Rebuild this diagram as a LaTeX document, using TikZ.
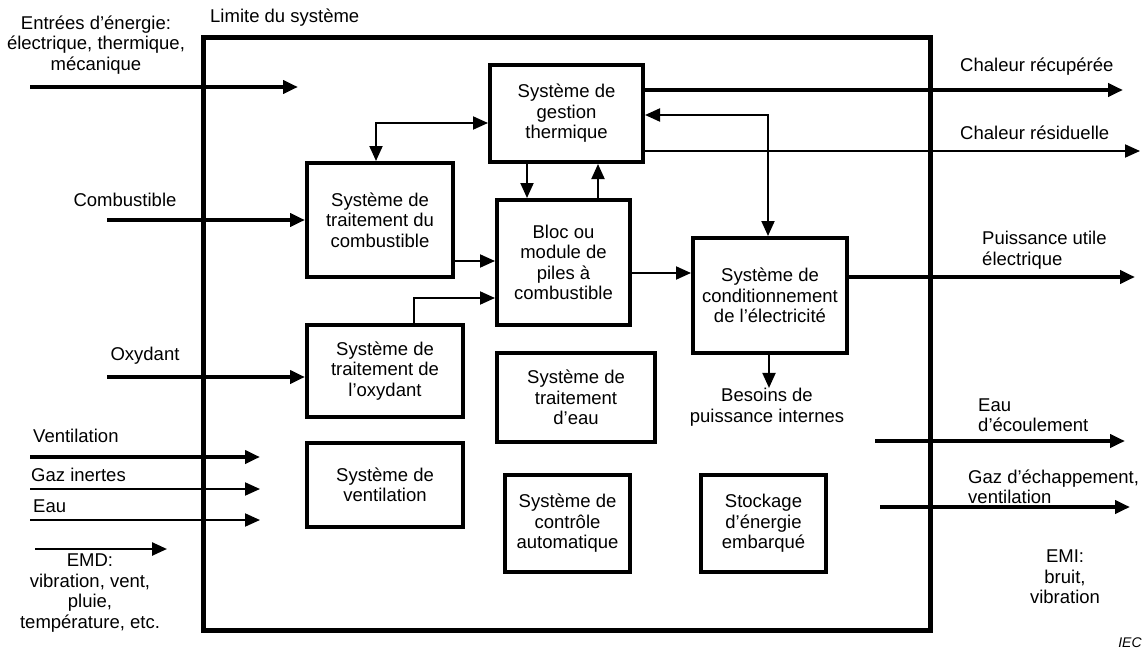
\documentclass[tikz,border=0pt]{standalone}
\usepackage{fontspec}
\setmainfont{Liberation Sans}
\usetikzlibrary{arrows.meta}
\newcommand\fsz{\fontsize{18.5}{20.5}\selectfont}
\begin{document}
\begin{tikzpicture}[x=1pt,y=-1pt,
  every node/.style={font=\fsz, inner sep=0pt},
  box/.style={draw, line width=4pt, align=center, inner sep=0pt},
  lbl/.style={align=center},
  lbll/.style={align=left, anchor=west},
  tip/.style={-{Triangle[length=15pt,width=13pt]}},
  thickarr/.style={tip, line width=4.5pt},
  thinarr/.style={tip, line width=2pt},
  midarr/.style={tip, line width=2.5pt},
  link/.style={line width=2pt},
  bound/.style={draw, line width=5pt, inner sep=0pt}]
\useasboundingbox (0,0) rectangle (1145,650);

% system boundary
\node[bound, minimum width=727pt, minimum height=592pt] (sys) at (566.5,334) {};
\node[anchor=west] (limite) at (210,18) {Limite du syst\`eme};

% internal boxes
\node[box, minimum width=153pt, minimum height=97pt] (gest) at (566.5,113.5) {Syst\`eme de\\gestion\\thermique};
\node[box, minimum width=146pt, minimum height=114pt] (fuel) at (380,220) {Syst\`eme de\\traitement du\\combustible};
\node[box, minimum width=133pt, minimum height=125pt] (stack) at (563.5,262.5) {Bloc ou\\module de\\piles \`a\\combustible};
\node[box, minimum width=154pt, minimum height=115pt] (cond) at (770,295.5) {Syst\`eme de\\conditionnement\\de l’\'electricit\'e};
\node[box, minimum width=156pt, minimum height=92pt] (oxy) at (385,371) {Syst\`eme de\\traitement de\\l’oxydant};
\node[box, minimum width=156pt, minimum height=84pt] (vent) at (385,485) {Syst\`eme de\\ventilation};
\node[box, minimum width=158pt, minimum height=89pt] (water) at (576,397.5) {Syst\`eme de\\traitement\\d’eau};
\node[box, minimum width=125pt, minimum height=97pt] (ctrl) at (567.5,523.5) {Syst\`eme de\\contr\^ole\\automatique};
\node[box, minimum width=125pt, minimum height=97pt] (stock) at (763.5,523.5) {Stockage\\d’\'energie\\embarqu\'e};
\node[lbl] (besoins) at (767,407) {Besoins de\\puissance internes};

% internal connectors
\draw[link, {Triangle[length=15pt,width=13pt]}-{Triangle[length=15pt,width=13pt]}]
  ([xshift=-4pt]fuel.north) |- ([yshift=-9.5pt]gest.west);
\draw[link, tip] ([xshift=-39.5pt]gest.south) -- ([xshift=-39.5pt]gest.south |- stack.north);
\draw[link, tip] ([xshift=31.5pt]gest.south |- stack.north) -- ([xshift=31.5pt]gest.south);
\draw[link, tip] ([yshift=-41pt]fuel.east) -- ([yshift=-41pt]fuel.east -| stack.west);
\draw[link, tip] ([xshift=29pt]oxy.north) |- ([yshift=-35.5pt]stack.west);
\draw[link, tip] ([yshift=-10.5pt]stack.east) -- ([yshift=-10.5pt]stack.east -| cond.west);
\draw[link, {Triangle[length=15pt,width=13pt]}-{Triangle[length=15pt,width=13pt]}]
  ([yshift=-1.5pt]gest.east) -| ([xshift=-2pt]cond.north);
\draw[link, tip] ([xshift=-1pt]cond.south) -- ([xshift=-1pt]cond.south |- besoins.north);

% left side inputs
\node[lbl] (entrees) at (96,45) {Entr\'ees d’\'energie:\\\'electrique, thermique,\\m\'ecanique};
\coordinate (eIn) at (30,87);
\coordinate (eEnd) at (298,87);
\draw[thickarr] (eIn) -- (eEnd);

\node (comb) at (125,200) {Combustible};
\coordinate (combIn) at (107,220);
\draw[thickarr] (combIn) -- (fuel.west);

\node (oxyd) at (145,356) {Oxydant};
\coordinate (oxyIn) at (107,377);
\draw[thickarr] (oxyIn) -- ([yshift=-6pt]oxy.west);

\node[lbll] (ventl) at (33,436) {Ventilation};
\coordinate (vIn) at (30,457); \coordinate (vEnd) at (260,457);
\draw[thickarr] (vIn) -- (vEnd);
\node[lbll] (gazl) at (31,475) {Gaz inertes};
\coordinate (gIn) at (30,489); \coordinate (gEnd) at (260,489);
\draw[thinarr] (gIn) -- (gEnd);
\node[lbll] (eaul) at (33,506) {Eau};
\coordinate (wIn) at (30,520); \coordinate (wEnd) at (260,520);
\draw[thinarr] (wIn) -- (wEnd);
\coordinate (mIn) at (35,549); \coordinate (mEnd) at (167,549);
\draw[midarr] (mIn) -- (mEnd);
\node[lbl] (emd) at (90,593) {EMD:\\vibration, vent,\\pluie,\\temp\'erature, etc.};

% right side outputs
\node[anchor=west] (chrec) at (960,67) {Chaleur r\'ecup\'er\'ee};
\coordinate (hrEnd) at (1123,90);
\draw[thickarr] ([yshift=23.5pt]gest.east) -- (hrEnd);
\node[anchor=west] (chres) at (960,133) {Chaleur r\'esiduelle};
\coordinate (hwEnd) at (1140,151);
\draw[thinarr] ([yshift=-37.5pt]gest.east) -- (hwEnd);
\node[lbll] (puis) at (982,250) {Puissance utile\\\'electrique};
\coordinate (pEnd) at (1135,277);
\draw[thickarr] ([yshift=18.5pt]cond.east) -- (pEnd);
\node[lbll] (eaue) at (978,415) {Eau\\d’\'ecoulement};
\coordinate (weIn) at (875,441); \coordinate (weEnd) at (1125,441);
\draw[thickarr] (weIn) -- (weEnd);
\node[lbll] (gaze) at (968,487) {Gaz d’\'echappement,\\ventilation};
\coordinate (geIn) at (880,507); \coordinate (geEnd) at (1130,507);
\draw[thickarr] (geIn) -- (geEnd);
\node[lbl] (emi) at (1065,577) {EMI:\\bruit,\\vibration};
\node[font=\fontsize{14}{16}\selectfont\itshape] (iec) at (1130,643) {IEC};
\end{tikzpicture}
\end{document}
